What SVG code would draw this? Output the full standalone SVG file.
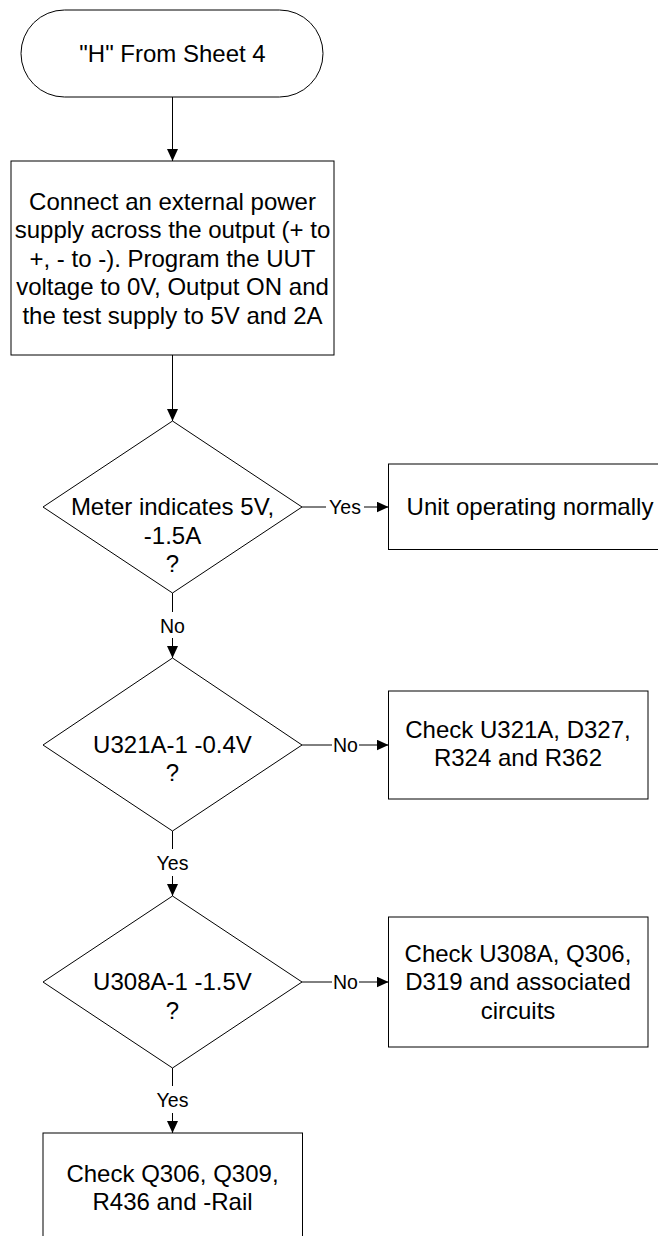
<svg xmlns="http://www.w3.org/2000/svg" width="658" height="1236" viewBox="0 0 658 1236">
<style>
.s{fill:#fff;stroke:#000;stroke-width:1}
.t{font-family:"Liberation Sans",Arial,sans-serif;font-size:24px;fill:#000;text-anchor:middle}
.l{font-family:"Liberation Sans",Arial,sans-serif;font-size:19.5px;fill:#000;text-anchor:middle}
.c{fill:none;stroke:#000;stroke-width:1}
</style>
<defs>
<marker id="a" viewBox="0 0 12 11" refX="12" refY="5.5" markerWidth="12" markerHeight="11" markerUnits="userSpaceOnUse" orient="auto">
<path d="M0,0 L12,5.5 L0,11 Z" fill="#000"/>
</marker>
</defs>
<rect width="658" height="1236" fill="#fff"/>
<g id="start">
<rect class="s" x="21" y="10" width="302" height="87" rx="43.5" ry="43.5"/>
<text class="t" x="172.5" y="62">"H" From Sheet 4</text>
</g>
<g id="connect">
<rect class="s" x="11" y="161" width="323" height="194"/>
<text class="t" x="172.5" y="209.5">Connect an external power</text>
<text class="t" x="172.5" y="238">supply across the output (+ to</text>
<text class="t" x="172.5" y="266.5">+, - to -). Program the UUT</text>
<text class="t" x="172.5" y="295">voltage to 0V, Output ON and</text>
<text class="t" x="172.5" y="323.5">the test supply to 5V and 2A</text>
</g>
<g id="d1">
<polygon class="s" points="172.5,421 302,507 172.5,593 43,507"/>
<text class="t" x="172.5" y="515">Meter indicates 5V,</text>
<text class="t" x="172.5" y="543.5">-1.5A</text>
<text class="t" x="172.5" y="572">?</text>
</g>
<g id="normal">
<rect class="s" x="388.5" y="464" width="290" height="85.5"/>
<text class="t" x="530" y="515">Unit operating normally</text>
</g>
<g id="d2">
<polygon class="s" points="172.5,658 302,745 172.5,831 43,745"/>
<text class="t" x="172.5" y="752.5">U321A-1 -0.4V</text>
<text class="t" x="172.5" y="781">?</text>
</g>
<g id="chk1">
<rect class="s" x="388.5" y="691" width="259.5" height="108"/>
<text class="t" x="518" y="737.5">Check U321A, D327,</text>
<text class="t" x="518" y="766">R324 and R362</text>
</g>
<g id="d3">
<polygon class="s" points="172.5,896 302,982 172.5,1068 43,982"/>
<text class="t" x="172.5" y="990">U308A-1 -1.5V</text>
<text class="t" x="172.5" y="1018.5">?</text>
</g>
<g id="chk2">
<rect class="s" x="388.5" y="917" width="259.5" height="130"/>
<text class="t" x="518" y="961.5">Check U308A, Q306,</text>
<text class="t" x="518" y="990">D319 and associated</text>
<text class="t" x="518" y="1018.5">circuits</text>
</g>
<g id="chk3">
<rect class="s" x="43" y="1133" width="259.5" height="130"/>
<text class="t" x="172.5" y="1181.5">Check Q306, Q309,</text>
<text class="t" x="172.5" y="1210">R436 and -Rail</text>
</g>
<g id="connectors">
<path class="c" d="M172.5,97 V161" marker-end="url(#a)"/>
<path class="c" d="M172.5,355 V421" marker-end="url(#a)"/>
<path class="c" d="M302,507 H326"/>
<path class="c" d="M364,507 H388.5" marker-end="url(#a)"/>
<text class="l" x="345" y="514">Yes</text>
<path class="c" d="M172.5,593 V612"/>
<path class="c" d="M172.5,638 V658" marker-end="url(#a)"/>
<text class="l" x="172.5" y="632.5">No</text>
<path class="c" d="M302,745 H332"/>
<path class="c" d="M359,745 H388.5" marker-end="url(#a)"/>
<text class="l" x="345.5" y="752">No</text>
<path class="c" d="M172.5,831 V849"/>
<path class="c" d="M172.5,876 V896" marker-end="url(#a)"/>
<text class="l" x="172.5" y="870">Yes</text>
<path class="c" d="M302,982 H332"/>
<path class="c" d="M359,982 H388.5" marker-end="url(#a)"/>
<text class="l" x="345.5" y="989">No</text>
<path class="c" d="M172.5,1068 V1086"/>
<path class="c" d="M172.5,1113 V1133" marker-end="url(#a)"/>
<text class="l" x="172.5" y="1107">Yes</text>
</g>
</svg>
